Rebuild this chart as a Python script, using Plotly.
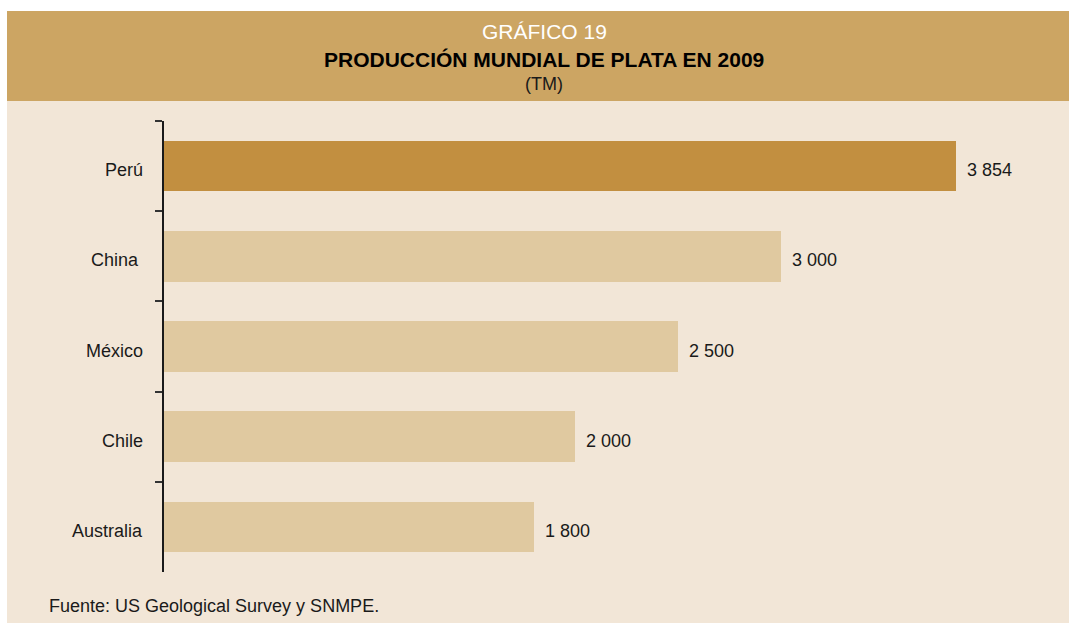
import plotly.graph_objects as go

categories = ["Perú", "China ", "México", "Chile", "Australia"]
values = [3854, 3000, 2500, 2000, 1800]
bar_colors = ["#C28F40", "#E0C9A0", "#E0C9A0", "#E0C9A0", "#E0C9A0"]
labels = [f"{v:,}".replace(",", " ") for v in values]

W, H = 1069, 623
# plot area in page pixels: x 164..1049, y 121..572
ML, MR, MT, MB = 164, W - 1049, 121, H - 572
PW, PH = W - ML - MR, H - MT - MB
X_MAX = 885 / (792 / 3854)

def px_x(p):
    return (p - ML) / PW

def px_y(p):
    return (H - MB - p) / PH

FONT = "Liberation Sans, Arial"
TXT = "#1a1a1a"
BEIGE = "#F2E6D7"

fig = go.Figure()
fig.add_trace(go.Bar(
    x=values, y=categories, orientation="h",
    marker=dict(color=bar_colors, line=dict(width=0)),
    width=0.56, hoverinfo="skip",
))

for c, v, t in zip(categories, values, labels):
    fig.add_annotation(x=v, y=c, xref="x", yref="y", text=t, showarrow=False,
                       xanchor="left", yanchor="middle", xshift=9, yshift=-4,
                       font=dict(family=FONT, size=18, color=TXT))
    fig.add_annotation(x=0, y=c, xref="paper", yref="y", text=c.strip(), showarrow=False,
                       xanchor="right", yanchor="middle",
                       xshift=-(19 if c.strip() == c else 23), yshift=-4,
                       font=dict(family=FONT, size=18, color=TXT))

# white outer frame (top and left) and header band
fig.add_shape(type="rect", xref="paper", yref="paper", layer="below",
              x0=px_x(-5), x1=px_x(W + 10), y0=px_y(11), y1=px_y(-5),
              fillcolor="white", line=dict(width=0))
fig.add_shape(type="rect", xref="paper", yref="paper", layer="below",
              x0=px_x(-5), x1=px_x(7), y0=px_y(H + 5), y1=px_y(-5),
              fillcolor="white", line=dict(width=0))
fig.add_shape(type="rect", xref="paper", yref="paper", layer="below",
              x0=px_x(7), x1=px_x(W + 10), y0=px_y(101), y1=px_y(11),
              fillcolor="#CCA563", line=dict(width=0))

cx = px_x(544)
fig.add_annotation(x=cx, y=px_y(31), xref="paper", yref="paper", text="GRÁFICO 19",
                   showarrow=False, xanchor="center", yanchor="middle",
                   font=dict(family=FONT, size=21, color="white"))
fig.add_annotation(x=cx, y=px_y(59), xref="paper", yref="paper",
                   text="<b>PRODUCCIÓN MUNDIAL DE PLATA EN 2009</b>",
                   showarrow=False, xanchor="center", yanchor="middle",
                   font=dict(family=FONT, size=21, color="black"))
fig.add_annotation(x=cx, y=px_y(84), xref="paper", yref="paper", text="(TM)",
                   showarrow=False, xanchor="center", yanchor="middle",
                   font=dict(family=FONT, size=18, color=TXT))
fig.add_annotation(x=px_x(47), y=px_y(606), xref="paper", yref="paper",
                   text="Fuente: US Geological Survey y SNMPE.",
                   showarrow=False, xanchor="left", yanchor="middle",
                   font=dict(family=FONT, size=18, color=TXT))

fig.update_layout(
    width=W, height=H,
    margin=dict(l=ML, r=MR, t=MT, b=MB, pad=0),
    paper_bgcolor=BEIGE, plot_bgcolor="rgba(0,0,0,0)",
    showlegend=False, bargap=0,
    xaxis=dict(range=[0, X_MAX], visible=False, fixedrange=True),
    yaxis=dict(autorange="reversed", showline=True, linecolor=TXT, linewidth=1.5,
               ticks="outside", ticklen=7, tickwidth=1.5, tickcolor="#333333",
               tickson="boundaries", showgrid=False, zeroline=False,
               showticklabels=False, fixedrange=True),
)

fig.write_html(
    "out.html",
    config={"displayModeBar": False, "responsive": False},
    post_script=(
        "document.documentElement.style.overflow='hidden';"
        "document.body.style.margin='0';"
        "document.body.style.overflow='hidden';"
        f"document.body.style.background='{BEIGE}';"
    ),
)
